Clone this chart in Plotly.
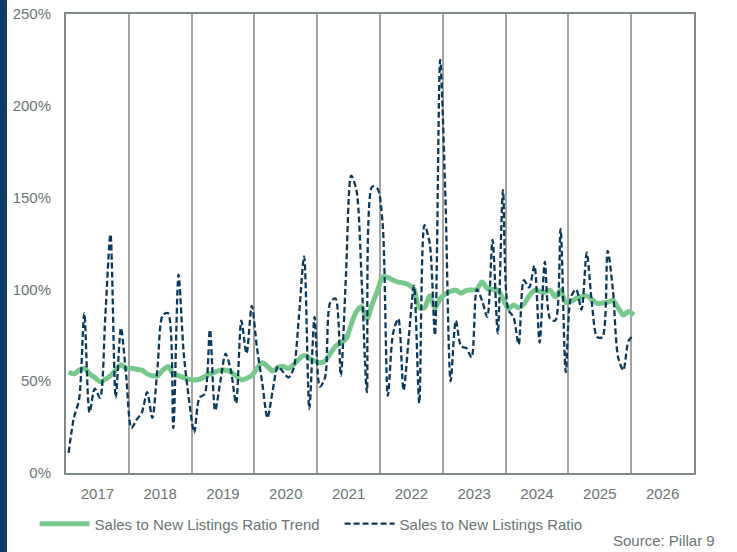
import plotly.graph_objects as go

# Monthly periods Jan 2017 .. Jan 2026
start_year = 2017
n_months = 109
months = [start_year + (i + 0.5) / 12 for i in range(n_months)]

ratio = [
    # 2017
    11, 30, 40, 87, 33, 46, 41, 85, 130, 41, 79, 53,
    # 2018
    24.5, 29, 33, 44, 30, 58, 86, 87, 24.5, 108, 65, 40,
    # 2019
    22, 41, 43, 78, 34, 50, 65, 56, 38, 83, 65, 91,
    # 2020
    68, 49, 30, 45, 58, 55, 52, 57, 85, 118, 35, 85,
    # 2021
    47, 52, 93, 95, 53, 108, 162, 154, 105, 44, 156, 155,
    # 2022
    136, 42, 76, 84, 45, 74, 102, 38, 135, 125, 75, 225,
    # 2023
    150, 50, 83, 69, 68, 63, 100, 94, 85, 127, 76, 154,
    # 2024
    89, 85, 70, 105, 101, 113, 71, 115, 84, 83, 133, 55,
    # 2025
    96, 100, 89, 120, 92, 74, 74, 121, 100, 63, 56, 72,
    # 2026
    75,
]

trend = [
    # 2017
    55, 54, 56, 57, 54, 52, 49.7, 51, 53, 56, 59, 57,
    # 2018
    57, 56.5, 56, 54, 53, 53, 56, 58, 54, 53, 52, 51,
    # 2019
    50.7, 51, 52.5, 54, 55, 56, 56, 55, 53, 50.7, 51.5, 53,
    # 2020
    57, 60, 58, 55.5, 57.5, 58, 57, 59, 62, 64, 62.5, 61,
    # 2021
    60, 61, 65, 69, 71, 73, 81, 88, 90.5, 84, 92, 99,
    # 2022
    107, 106.5, 105, 104, 103.5, 102.5, 100, 90, 90, 96.5, 90, 95,
    # 2023
    97.5, 99, 99.5, 98, 99.5, 99.7, 100, 104, 100.5, 100, 99.7, 95,
    # 2024
    89.5, 91.5, 90, 92, 96.5, 99.5, 99, 98.5, 99.5, 96, 99.5, 93,
    # 2025
    93.5, 95, 96, 96.5, 94.5, 92.4, 92.6, 93, 94, 90, 86, 88,
    # 2026
    86,
]

year_labels = [str(y) for y in range(2017, 2027)]
year_centers = [y + 0.5 for y in range(2017, 2027)]
year_bounds = list(range(2018, 2027))
y_ticks = [0, 50, 100, 150, 200, 250]
y_ticktext = [f"{v}%" for v in y_ticks]

TEXT = "#6b7573"
FRAME = "#808a88"
GRID = "#a3a3a3"
GREEN = "#78c88e"
NAVY = "#0c3a5c"

fig = go.Figure()
fig.add_trace(go.Scatter(
    x=months, y=trend, mode="lines", name="Sales to New Listings Ratio Trend",
    line=dict(color=GREEN, width=5, shape="spline", smoothing=0.8),
))
fig.add_trace(go.Scatter(
    x=months, y=ratio, mode="lines", name="Sales to New Listings Ratio",
    line=dict(color=NAVY, width=2.3, dash="6px,3px", shape="spline", smoothing=0.8),
))

fig.update_layout(
    width=737, height=552,
    margin=dict(l=66, r=43, t=14, b=79, autoexpand=False),
    paper_bgcolor="white", plot_bgcolor="white",
    font=dict(family="Liberation Sans, Arial, sans-serif", size=15, color=TEXT),
    showlegend=True,
    legend=dict(
        orientation="h", x=-0.050, xanchor="left", y=-0.111, yanchor="middle",
        font=dict(size=15, color=TEXT), entrywidth=240, entrywidthmode="pixels",
        itemwidth=50, bgcolor="rgba(0,0,0,0)",
    ),
    xaxis=dict(
        range=[2017, 2027], tickmode="array", tickvals=year_centers, ticktext=year_labels,
        showgrid=False, zeroline=False, showline=True, linecolor=FRAME, linewidth=2,
        mirror=True, ticks="", ticklabelstandoff=6,
        minor=dict(tickmode="array", tickvals=year_bounds, showgrid=True,
                   gridcolor=GRID, gridwidth=1.5, ticks=""),
        fixedrange=True,
    ),
    yaxis=dict(
        range=[0, 250], tickmode="array", tickvals=y_ticks, ticktext=y_ticktext,
        showgrid=False, zeroline=False, showline=True, linecolor=FRAME, linewidth=2,
        mirror=True, ticks="", ticklabelstandoff=10,
        fixedrange=True,
    ),
    shapes=[dict(type="rect", xref="paper", yref="paper",
                 x0=-66 / 628, x1=-59 / 628, y0=-79 / 459, y1=1 + 14 / 459,
                 fillcolor="#0f3c60", line=dict(width=0), layer="above")],
    annotations=[dict(text="Source: Pillar 9", xref="paper", yref="paper",
                      x=1.0366, y=-0.146, xanchor="right", yanchor="middle",
                      showarrow=False, font=dict(size=15, color=TEXT))],
)

fig.write_html(
    "out.html",
    config={"displayModeBar": False},
    post_script="document.body.style.margin='0';document.body.style.overflow='hidden';",
)
